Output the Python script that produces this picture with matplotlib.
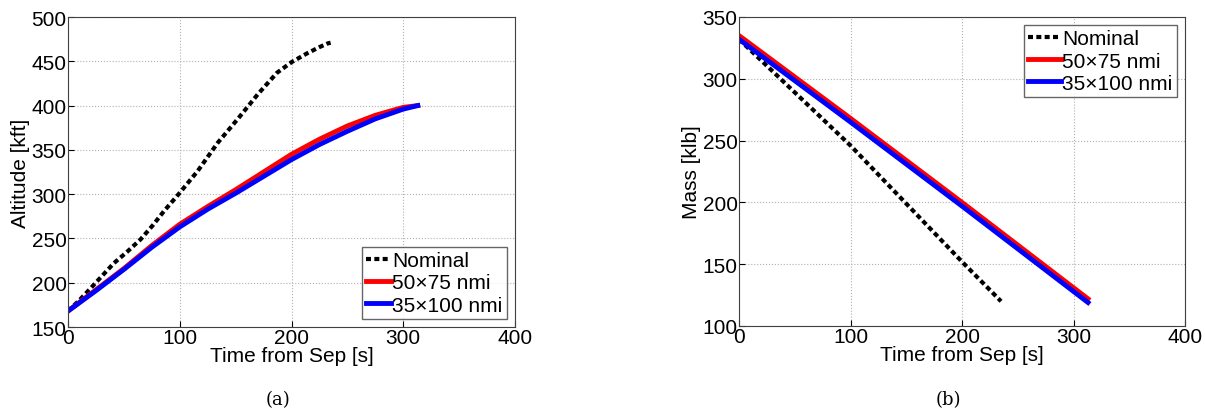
import numpy as np
import matplotlib.pyplot as plt

plt.rcParams['font.family'] = ['Liberation Sans', 'DejaVu Sans']

# altitude vs time [s, kft]
t_nom_alt = [0, 10, 19, 30, 41, 53, 65, 76, 86, 99, 116, 134, 152, 170, 187, 200, 214, 225, 232, 235]
alt_nom = [168, 180, 192, 207, 222, 235, 249, 265, 281, 300, 326, 358, 385, 413, 437, 449, 459, 466, 470, 471]
t_alt = [0, 25, 50, 75, 100, 125, 150, 175, 200, 225, 250, 275, 300, 313]
alt_50x75 = [168, 192, 216, 242, 266, 286, 305, 325, 345, 362, 377, 389, 398, 400]
alt_35x100 = [168, 191, 215, 240, 263, 283, 301, 320, 339, 356, 371, 385, 396, 400]

# mass vs time [s, klb]
t_nom_mass = [0, 100, 200, 235]
mass_nom = [332, 246, 152, 120]
t_mass = [0, 100, 200, 313]
mass_50x75 = [335, 268, 200, 122]
mass_35x100 = [332, 265, 197, 119]

labels = ['Nominal', '50\u00d775 nmi', '35\u00d7100 nmi']

fig = plt.figure(figsize=(12.05, 4.10), dpi=100)
ax1 = fig.add_axes([68/1205, 1-328/410, 447/1205, 310/410])
ax2 = fig.add_axes([739/1205, 1-327/410, 446/1205, 309/410])


def style(ax, ylim, yticks, ylabel):
    ax.set_xlim(0, 400)
    ax.set_ylim(*ylim)
    ax.set_xticks([0, 100, 200, 300, 400])
    ax.set_yticks(yticks)
    ax.grid(True, linestyle=':', color='#b0b0b0', linewidth=0.8)
    ax.tick_params(direction='in', labelsize=15, length=4, pad=1)
    for s in ax.spines.values():
        s.set_color('#404040')
        s.set_linewidth(0.8)
    ax.set_xlabel('Time from Sep [s]', fontsize=15, labelpad=-1)
    ax.set_ylabel(ylabel, fontsize=15, labelpad=1)


ax1.plot(t_nom_alt, alt_nom, color='black', lw=3, dashes=(1.2, 0.8), label=labels[0])
ax1.plot(t_alt, alt_50x75, color='red', lw=3.5, label=labels[1])
ax1.plot(t_alt, alt_35x100, color='blue', lw=3.5, label=labels[2])
style(ax1, (150, 500), range(150, 501, 50), 'Altitude [kft]')
ax1.legend(loc='lower right', fontsize=15, handlelength=1.2, handletextpad=0.05,
           borderpad=0.2, labelspacing=0.15, fancybox=False, edgecolor='#404040',
           borderaxespad=0.4)

ax2.plot(t_nom_mass, mass_nom, color='black', lw=3, dashes=(1.2, 0.8), label=labels[0])
ax2.plot(t_mass, mass_50x75, color='red', lw=3.5, label=labels[1])
ax2.plot(t_mass, mass_35x100, color='blue', lw=3.5, label=labels[2])
style(ax2, (100, 350), range(100, 351, 50), 'Mass [klb]')
ax2.legend(loc='upper right', fontsize=15, handlelength=1.6, handletextpad=0.05,
           borderpad=0.2, labelspacing=0.15, fancybox=False, edgecolor='#404040',
           borderaxespad=0.4)

fig.text(278/1205, 1-400/410, '(a)', family='DejaVu Serif', fontsize=13, ha='center', va='center')
fig.text(948/1205, 1-400/410, '(b)', family='DejaVu Serif', fontsize=13, ha='center', va='center')

fig.savefig('out.png', dpi=100)
